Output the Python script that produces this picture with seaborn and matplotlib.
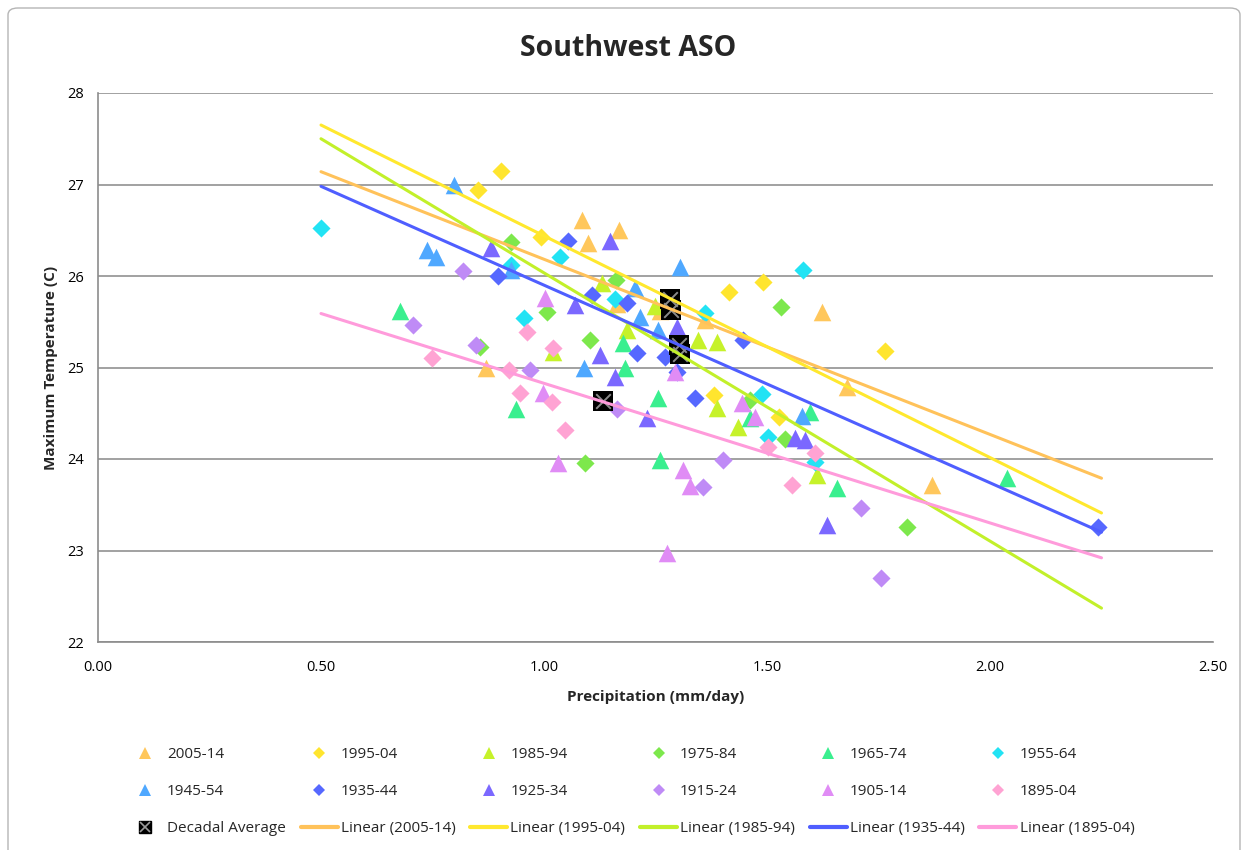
import numpy as np
import pandas as pd
import matplotlib
matplotlib.use("Agg")
import matplotlib.pyplot as plt
import seaborn as sns
from matplotlib.lines import Line2D
from matplotlib.patches import FancyBboxPatch
from matplotlib.ticker import FormatStrFormatter

# ---------------- data ----------------
decades = ["2005-14", "1995-04", "1985-94", "1975-84", "1965-74", "1955-64",
           "1945-54", "1935-44", "1925-34", "1915-24", "1905-14", "1895-04"]

x_2005 = [1.085, 1.099, 1.168, 0.870, 1.164, 1.360, 1.623, 1.680, 1.870, 1.260]
y_2005 = [26.61, 26.36, 26.50, 25.00, 25.69, 25.52, 25.61, 24.79, 23.72, 25.62]
x_1995 = [0.852, 0.904, 0.993, 1.415, 1.491, 1.765, 1.381, 1.527]
y_1995 = [26.94, 27.15, 26.43, 25.83, 25.93, 25.18, 24.70, 24.46]
x_1985 = [1.020, 1.130, 1.249, 1.186, 1.345, 1.388, 1.388, 1.435, 1.612]
y_1985 = [25.17, 25.92, 25.67, 25.41, 25.30, 25.28, 24.56, 24.35, 23.83]
x_1975 = [0.926, 1.007, 1.103, 1.161, 1.531, 1.092, 1.814, 1.540, 1.462, 0.857]
y_1975 = [26.37, 25.61, 25.30, 25.96, 25.66, 23.96, 23.26, 24.22, 24.64, 25.22]
x_1965 = [0.677, 0.937, 1.177, 1.182, 1.256, 1.260, 1.596, 1.462, 1.657, 2.038]
y_1965 = [25.62, 24.55, 25.27, 25.00, 24.67, 23.99, 24.51, 24.45, 23.68, 23.79]
x_1955 = [0.500, 0.955, 1.036, 0.926, 1.159, 1.581, 1.361, 1.489, 1.502, 1.608]
y_1955 = [26.52, 25.54, 26.21, 26.12, 25.75, 26.07, 25.60, 24.71, 24.24, 23.97]
x_1945 = [0.798, 0.738, 0.758, 0.926, 1.305, 1.090, 1.204, 1.215, 1.256, 1.578]
y_1945 = [26.99, 26.28, 26.21, 26.07, 26.10, 24.99, 25.87, 25.55, 25.41, 24.47]
x_1935 = [0.897, 1.054, 1.108, 1.186, 1.208, 1.271, 1.339, 1.446, 2.242, 1.298]
y_1935 = [26.00, 26.38, 25.79, 25.70, 25.16, 25.12, 24.67, 25.30, 23.26, 24.95]
x_1925 = [0.881, 1.148, 1.070, 1.126, 1.159, 1.298, 1.231, 1.634, 1.563, 1.585]
y_1925 = [26.31, 26.38, 25.68, 25.14, 24.90, 25.44, 24.45, 23.28, 24.23, 24.21]
x_1915 = [0.818, 0.706, 0.848, 0.969, 1.164, 1.401, 1.357, 1.711, 1.756]
y_1915 = [26.05, 25.46, 25.25, 24.97, 24.55, 23.99, 23.69, 23.46, 22.70]
x_1905 = [1.002, 0.998, 1.031, 1.294, 1.312, 1.327, 1.276, 1.444, 1.473]
y_1905 = [25.76, 24.72, 23.96, 24.95, 23.88, 23.70, 22.97, 24.61, 24.46]
x_1895 = [0.749, 0.922, 0.946, 0.962, 1.020, 1.018, 1.047, 1.556, 1.502, 1.608]
y_1895 = [25.10, 24.97, 24.72, 25.39, 25.21, 24.62, 24.32, 23.72, 24.13, 24.07]

avg_x = [1.283, 1.285, 1.303, 1.305, 1.132]
avg_y = [25.75, 25.63, 25.25, 25.15, 24.63]

trend_names = ["2005-14", "1995-04", "1985-94", "1935-44", "1895-04"]
trend_x = [0.50, 2.25]
trend_start = [27.14, 27.65, 27.50, 26.98, 25.59]
trend_end = [23.79, 23.41, 22.37, 23.20, 22.92]

series_x = [x_2005, x_1995, x_1985, x_1975, x_1965, x_1955,
            x_1945, x_1935, x_1925, x_1915, x_1905, x_1895]
series_y = [y_2005, y_1995, y_1985, y_1975, y_1965, y_1955,
            y_1945, y_1935, y_1925, y_1915, y_1905, y_1895]

# ---------------- styles ----------------
colors = ["#FFC75C", "#FFE52E", "#C6F22A", "#7DE84C", "#3AEF8F", "#22E3F4",
          "#4FA8FF", "#5668FF", "#7B68FF", "#BF8BF6", "#E08CF5", "#FFA3D3"]
markers = ["^", "D"] * 6
trend_colors = ["#FFC25A", "#FFE82E", "#C2F02A", "#4F5EFF", "#FF9BDB"]

sns.set_theme(style="white")
plt.rcParams["font.family"] = ["Open Sans", "DejaVu Sans"]

W, H = 1249, 850
fig = plt.figure(figsize=(W / 100, H / 100), dpi=100)
ax = fig.add_axes([98 / W, 1 - 642 / H, (1213 - 98) / W, (642 - 93) / H])

for name, xs, ys, c, m in zip(decades, series_x, series_y, colors, markers):
    d = pd.DataFrame({"precip": xs, "tmax": ys})
    sns.scatterplot(data=d, x="precip", y="tmax", color=c, marker=m,
                    s=160 if m == "^" else 85, linewidth=0, ax=ax,
                    zorder=3, legend=False)

avg_df = pd.DataFrame({"precip": avg_x, "tmax": avg_y})
sns.scatterplot(data=avg_df, x="precip", y="tmax", color="black", marker="s",
                s=190, linewidth=0, ax=ax, zorder=4, legend=False)
sns.scatterplot(data=avg_df, x="precip", y="tmax", color="#8a8a8a", marker="x",
                s=110, linewidth=1.4, ax=ax, zorder=4.1, legend=False)

trend_df = pd.DataFrame({
    "precip": trend_x * len(trend_names),
    "tmax": [v for s, e in zip(trend_start, trend_end) for v in (s, e)],
    "decade": [n for n in trend_names for _ in trend_x],
})
sns.lineplot(data=trend_df, x="precip", y="tmax", hue="decade",
             palette=dict(zip(trend_names, trend_colors)), linewidth=2.2,
             ax=ax, legend=False, zorder=5)

# ---------------- axes ----------------
ax.set_xlim(0, 2.5)
ax.set_ylim(22, 28)
ax.set_xticks(np.arange(0, 2.51, 0.5))
ax.set_yticks(np.arange(22, 28.1, 1))
ax.xaxis.set_major_formatter(FormatStrFormatter("%.2f"))
ax.yaxis.set_major_formatter(FormatStrFormatter("%d"))
ax.yaxis.grid(True, color="#9a9a9a", linewidth=1.3)
ax.xaxis.grid(False)
for sp in ["top", "right"]:
    ax.spines[sp].set_visible(False)
for sp in ["left", "bottom"]:
    ax.spines[sp].set_color("#8c8c8c")
    ax.spines[sp].set_linewidth(1.2)
ax.tick_params(axis="both", direction="out", length=6, width=1.1,
               color="#8c8c8c", labelsize=10.5, labelcolor="black")
ax.tick_params(axis="x", pad=7)
ax.tick_params(axis="y", pad=4)
ax.set_xlabel("Precipitation (mm/day)", fontsize=11, fontweight="bold", labelpad=11)
ax.set_ylabel("Maximum Temperature (C)", fontsize=11, fontweight="bold", labelpad=7)

fig.text(628 / W, 1 - 48 / H, "Southwest ASO", ha="center", va="center",
         fontsize=20.5, fontweight="bold")

# ---------------- legend ----------------
def mk_handle(m, c):
    return Line2D([], [], linestyle="", marker=m, color=c,
                  markersize=8 if m == "^" else 6, markeredgewidth=0)

row1 = [mk_handle(m, c) for m, c in zip(markers[:6], colors[:6])]
row2 = [mk_handle(m, c) for m, c in zip(markers[6:], colors[6:])]
avg_handle = (Line2D([], [], linestyle="", marker="s", color="black", markersize=9),
              Line2D([], [], linestyle="", marker="x", color="#9a9a9a",
                     markersize=7, markeredgewidth=1.2))
row3 = [avg_handle] + [Line2D([], [], color=c, linewidth=3) for c in trend_colors]
lab1 = decades[:6]
lab2 = decades[6:]
lab3 = ["Decadal Average"] + [f"Linear ({n})" for n in trend_names]

handles, labels = [], []
for j in range(6):
    handles += [row1[j], row2[j], row3[j]]
    labels += [lab1[j], lab2[j], lab3[j]]

fig.legend(handles, labels, ncol=6, loc="upper left",
           bbox_to_anchor=(127 / W, 1 - 747 / H), frameon=False,
           fontsize=11, handlelength=2.42, handletextpad=0.2,
           columnspacing=0.97, labelspacing=1.45, borderpad=0, borderaxespad=0)

# chart-area border
fig.patches.append(FancyBboxPatch((8 / W, -0.05), (1240 - 8) / W, 1.05 - 8 / H,
                                  boxstyle="round,pad=0,rounding_size=0.008",
                                  transform=fig.transFigure, fill=False,
                                  edgecolor="#b5b5b5", linewidth=1.0))

fig.savefig("out.png", dpi=100)
